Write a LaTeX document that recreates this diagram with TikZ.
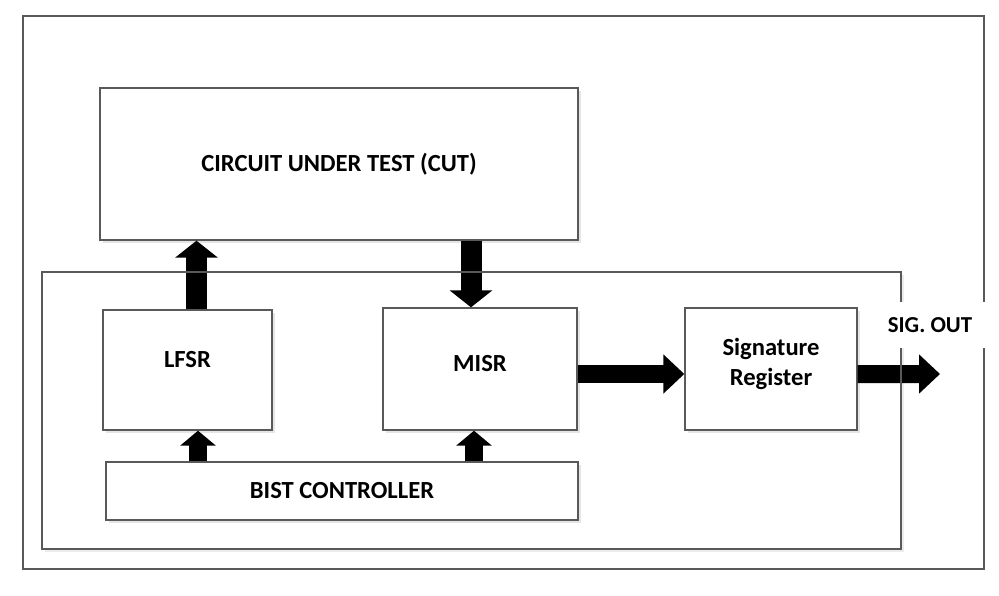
\documentclass[tikz,border=0pt]{standalone}
\usepackage{fontspec}
\setmainfont{Carlito}
\usetikzlibrary{arrows.meta,shadows}

\begin{document}
\begin{tikzpicture}[
    x=0.02cm, y=-0.02cm,
    block/.style={rectangle, draw=black!65, line width=0.8pt, fill=white, drop shadow={shadow xshift=1.5pt, shadow yshift=-1.5pt, fill=black!20}, font=\bfseries\fontsize{14}{17}\selectfont, align=center, inner sep=0pt},
    frame/.style={draw=black!65, line width=0.8pt},
    bigarrow/.style={line width=0.42cm, -{Triangle[length=0.34cm, width=0.84cm]}},
    sidearrow/.style={line width=0.36cm, -{Triangle[length=0.42cm, width=0.76cm]}},
    smallarrow/.style={line width=0.36cm, -{Triangle[length=0.3cm, width=0.7cm]}}
]
    \useasboundingbox (0,0) rectangle (999,595);

    % Frames
    \draw[frame] (23,16) rectangle (984,569);
    \draw[frame, fill=white, drop shadow={shadow xshift=1.5pt, shadow yshift=-1.5pt, fill=black!15}] (42,272) rectangle (901,549);

    % Blocks
    \node[block, minimum width=9.56cm, minimum height=3.04cm] (cut) at (339,164) {CIRCUIT UNDER TEST (CUT)};
    \node[block, minimum width=3.38cm, minimum height=2.4cm, text depth=0.44cm] (lfsr) at (187.5,370) {LFSR};
    \node[block, minimum width=3.88cm, minimum height=2.44cm, text depth=0.24cm] (misr) at (480,369) {MISR};
    \node[block, minimum width=3.44cm, minimum height=2.44cm, text depth=0.27cm] (sig) at (771,369) {Signature\\Register};
    \node[block, minimum width=9.44cm, minimum height=1.16cm] (bist) at (342,491) {BIST CONTROLLER};
    \coordinate (sigout) at (940,374);

    % Arrows
    \draw[bigarrow] ([xshift=0.18cm]lfsr.north) -- ([xshift=0.18cm]lfsr.north |- cut.south);
    \draw[bigarrow] ([xshift=-0.18cm]misr.north |- cut.south) -- ([xshift=-0.18cm]misr.north);
    \draw[sidearrow] ([yshift=-0.1cm]misr.east) -- ([yshift=-0.1cm]sig.west);
    \draw[sidearrow] ([yshift=-0.1cm]sig.east) -- (sigout);
    \draw[smallarrow] ([xshift=0.21cm]lfsr.south |- bist.north) -- ([xshift=0.21cm]lfsr.south);
    \draw[smallarrow] ([xshift=-0.12cm]misr.south |- bist.north) -- ([xshift=-0.12cm]misr.south);

    % Inner frame line over the arrows
    \draw[frame] (42,272) rectangle (901,549);

    % Label
    \node[fill=white, minimum width=2.2cm, minimum height=0.92cm, inner sep=0pt, font=\bfseries\fontsize{13}{15}\selectfont] (siglabel) at (930,325) {SIG. OUT};

\end{tikzpicture}
\end{document}
